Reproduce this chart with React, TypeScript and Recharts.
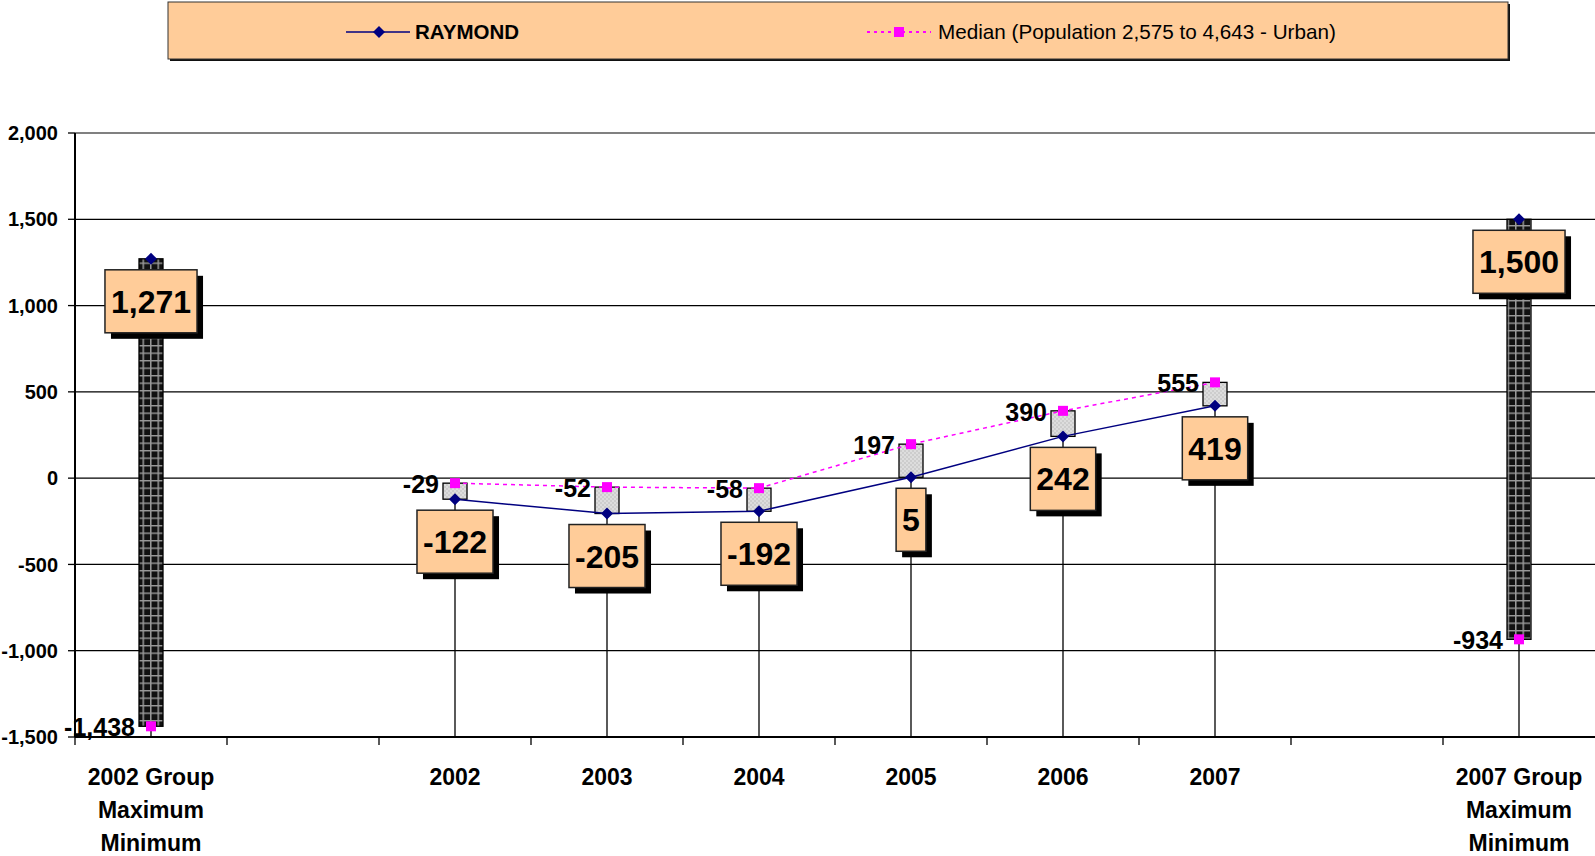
import React from 'react';
import {
  ComposedChart, Bar, Line, XAxis, YAxis, CartesianGrid, ReferenceLine, LabelList,
} from 'recharts';

const categories = ['2002 Group', 'gap-a', '2002', '2003', '2004', '2005', '2006', '2007', 'gap-b', '2007 Group'];
const tickText: string[][] = [
  ['2002 Group', 'Maximum', 'Minimum'], [], ['2002'], ['2003'], ['2004'], ['2005'], ['2006'], ['2007'], [],
  ['2007 Group', 'Maximum', 'Minimum'],
];
const kinds = ['group', 'gap', 'year', 'year', 'year', 'year', 'year', 'year', 'gap', 'group'];
const raymond: (number | null)[] = [1271, null, -122, -205, -192, 5, 242, 419, null, 1500];
const median: (number | null)[] = [-1438, null, -29, -52, -58, 197, 390, 555, null, -934];
const yTicks = [-1500, -1000, -500, 0, 500, 1000, 1500, 2000];

const FONT = '"Liberation Sans", Arial, sans-serif';
const W = 1595;
const H = 856;
const Y_AXIS_W = 75;
const BAND = (W - Y_AXIS_W) / categories.length;

const data = categories.map((cat, i) => ({
  cat,
  kind: kinds[i],
  raymond: raymond[i],
  median: median[i],
}));

const fmt = (v: number) => v.toLocaleString('en-US');

// rough Arial Bold advance widths
const textW = (s: string, size: number) =>
  s.split('').reduce((acc, ch) => acc + (ch === ',' ? 0.278 : ch === '-' ? 0.333 : 0.556), 0) * size;

const spanKey = (d: any) =>
  d.raymond == null || d.median == null ? null : [Math.min(d.raymond, d.median), Math.max(d.raymond, d.median)];
const dropKey = (d: any) =>
  d.raymond == null || d.median == null ? null : [yTicks[0], Math.max(d.raymond, d.median)];

const SpanShape = (props: any) => {
  const { x, y, width, height, payload } = props;
  if (x == null || height == null) return null;
  const top = height < 0 ? y + height : y;
  const h = Math.max(Math.abs(height), 1);
  const group = payload?.kind === 'group';
  return (
    <rect x={x} y={top} width={width} height={h}
      fill={group ? 'url(#gridPat)' : 'url(#dotPat)'} stroke="#000" strokeWidth={1.3} />
  );
};

const DropShape = (props: any) => {
  const { x, y, width, height } = props;
  if (x == null || height == null) return null;
  const cx = x + width / 2;
  return <line x1={cx} x2={cx} y1={y} y2={y + height} stroke="#000" strokeWidth={1.3} />;
};

const Diamond = (props: any) => {
  const { cx, cy, value } = props;
  if (cx == null || cy == null || value == null) return null;
  const r = 6;
  return <polygon key={`d${cx}`} points={`${cx},${cy - r} ${cx + r},${cy} ${cx},${cy + r} ${cx - r},${cy}`} fill="#000080" />;
};

const Square = (props: any) => {
  const { cx, cy, value } = props;
  if (cx == null || cy == null || value == null) return null;
  return <rect key={`s${cx}`} x={cx - 5} y={cy - 5} width={10} height={10} fill="#FF00FF" />;
};

const BoxLabel = (props: any) => {
  const { x, y, value } = props;
  if (value == null || x == null) return null;
  const text = fmt(value);
  const w = textW(text, 32) + 12;
  const h = 63;
  const top = y + 11;
  return (
    <g>
      <rect x={x - w / 2 + 6} y={top + 6} width={w} height={h} fill="#000" />
      <rect x={x - w / 2} y={top} width={w} height={h} fill="#FFCC99" stroke="#222" strokeWidth={1.5} />
      <text x={x} y={top + h / 2 + 11.5} textAnchor="middle" fontSize={32} fontWeight="bold"
        fontFamily={FONT} fill="#000">{text}</text>
    </g>
  );
};

const MedianLabel = (props: any) => {
  const { x, y, value } = props;
  if (value == null || x == null) return null;
  return (
    <text x={x - 16} y={y + 10} textAnchor="end" fontSize={25} fontWeight="bold"
      fontFamily={FONT} fill="#000">{fmt(value)}</text>
  );
};

const CatTick = (props: any) => {
  const { x, y, payload } = props;
  const lines = tickText[categories.indexOf(payload.value)] ?? [];
  const edge = x - BAND / 2;
  return (
    <g>
      <line x1={edge} x2={edge} y1={y} y2={y + 8} stroke="#000" strokeWidth={1.3} />
      <text x={x} y={y + 48} textAnchor="middle" fontSize={23} fontWeight="bold" fontFamily={FONT} fill="#000">
        {lines.map((t, i) => (
          <tspan key={i} x={x} dy={i === 0 ? 0 : 33}>{t}</tspan>
        ))}
      </text>
    </g>
  );
};

const Legend = () => (
  <svg width={W} height={70} style={{ position: 'absolute', left: 0, top: 0 }}>
    <rect x={170} y={4} width={1340} height={57} fill="#111" />
    <rect x={168} y={2} width={1340} height={57} fill="#FFCC99" stroke="#333" strokeWidth={1} />
    <line x1={346} x2={410} y1={32} y2={32} stroke="#000080" strokeWidth={1.5} />
    <polygon points="379,26 385,32 379,38 373,32" fill="#000080" />
    <text x={415} y={39} fontSize={20.5} fontWeight="bold" fontFamily={FONT} fill="#000">RAYMOND</text>
    <line x1={867} x2={931} y1={32} y2={32} stroke="#FF00FF" strokeWidth={2} strokeDasharray="3 4" />
    <rect x={894} y={27} width={10} height={10} fill="#FF00FF" />
    <text x={938} y={39} fontSize={20.7} fontFamily={FONT} fill="#000">Median (Population 2,575 to 4,643 - Urban)</text>
  </svg>
);

export default function App() {
  return (
    <div style={{ position: 'absolute', left: 0, top: 0, width: W, height: H, background: '#fff' }}>
      <svg width={0} height={0} style={{ position: 'absolute' }}>
        <defs>
          <pattern id="gridPat" width={7.5} height={7.5} patternUnits="userSpaceOnUse">
            <rect width={7.5} height={7.5} fill="#111" />
            <path d="M0 0.75 H7.5 M0.75 0 V7.5" stroke="#9a9a9a" strokeWidth={1.5} />
          </pattern>
          <pattern id="dotPat" width={4} height={4} patternUnits="userSpaceOnUse">
            <rect width={4} height={4} fill="#cdcdcd" />
            <circle cx={1} cy={1} r={0.8} fill="#f2f2f2" />
            <circle cx={3} cy={3} r={0.8} fill="#f2f2f2" />
          </pattern>
        </defs>
      </svg>
      <Legend />
      <ComposedChart width={W} height={H} data={data} margin={{ top: 133, right: 0, left: 0, bottom: 9 }}>
        <CartesianGrid vertical={false} stroke="#000" strokeWidth={1.3} />
        <XAxis dataKey="cat" interval={0} height={110} tick={<CatTick />} tickLine={false}
          tickSize={0} tickMargin={0} axisLine={{ stroke: '#000', strokeWidth: 2 }} />
        <XAxis xAxisId="drop" dataKey="cat" hide />
        <XAxis xAxisId="span" dataKey="cat" hide />
        <YAxis width={Y_AXIS_W} domain={[yTicks[0], yTicks[yTicks.length - 1]]} ticks={yTicks}
          tickFormatter={fmt} tickSize={7} tickMargin={10}
          tick={{ fill: '#000', fontSize: 20, fontWeight: 'bold', fontFamily: FONT }}
          tickLine={{ stroke: '#000', strokeWidth: 1.3 }} axisLine={{ stroke: '#000', strokeWidth: 2 }} />
        <ReferenceLine y={yTicks[yTicks.length - 1]} stroke="#808080" strokeWidth={2} />
        <Bar xAxisId="drop" dataKey={dropKey} barSize={4} shape={<DropShape />} isAnimationActive={false} />
        <Bar xAxisId="span" dataKey={spanKey} barSize={24} shape={<SpanShape />} isAnimationActive={false} />
        <Line dataKey="raymond" stroke="#000080" strokeWidth={1.5} dot={<Diamond />} activeDot={false}
          isAnimationActive={false}>
          <LabelList dataKey="raymond" content={<BoxLabel />} />
        </Line>
        <Line dataKey="median" stroke="#FF00FF" strokeWidth={1.5} strokeDasharray="4 4" dot={<Square />}
          activeDot={false} isAnimationActive={false}>
          <LabelList dataKey="median" content={<MedianLabel />} />
        </Line>
      </ComposedChart>
    </div>
  );
}
